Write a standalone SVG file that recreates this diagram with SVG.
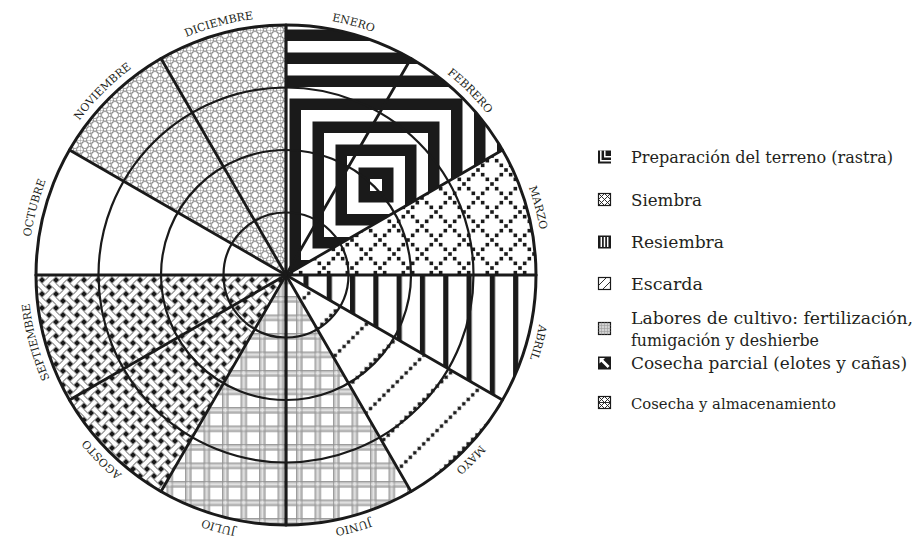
<svg xmlns="http://www.w3.org/2000/svg" width="919" height="553" viewBox="0 0 919 553">
<style>
.ring{fill:none;stroke:#1a1a1a;stroke-width:2.2}
.rad{stroke:#1a1a1a;stroke-width:2.8;stroke-linecap:round}
.mon{font-family:"DejaVu Serif","Liberation Serif",serif;font-size:11px;fill:#231f20;text-anchor:middle}
.leg{font-family:"DejaVu Serif","Liberation Serif",serif;font-size:16.5px;fill:#231f20}
.icf{fill:#fff;stroke:#1a1a1a;stroke-width:1.2}
.icb{fill:#1a1a1a}
.icl{fill:none;stroke:#1a1a1a;stroke-width:0.9}
.icw{fill:none;stroke:#fff;stroke-width:1.5}
.sq{fill:none;stroke:#1a1a1a;stroke-width:11.5}
</style>
<defs>
  <pattern id="pSiem" patternUnits="userSpaceOnUse" width="28" height="28" x="0" y="0">
    <rect width="28" height="28" fill="#fff"/>
    <g fill="#1a1a1a">
      <rect x="0.2" y="0.2" width="3.6" height="3.6"/>
      <rect x="4.87" y="4.87" width="3.6" height="3.6"/>
      <rect x="9.53" y="9.53" width="3.6" height="3.6"/>
      <rect x="14.2" y="14.2" width="3.6" height="3.6"/>
      <rect x="18.87" y="18.87" width="3.6" height="3.6"/>
      <rect x="23.53" y="23.53" width="3.6" height="3.6"/>
      <rect x="4.87" y="23.53" width="3.6" height="3.6"/>
      <rect x="9.53" y="18.87" width="3.6" height="3.6"/>
      <rect x="18.87" y="9.53" width="3.6" height="3.6"/>
      <rect x="23.53" y="4.87" width="3.6" height="3.6"/>
    </g>
  </pattern>
  <pattern id="pRes" patternUnits="userSpaceOnUse" width="23.3" height="30" x="0.5" y="0">
    <rect width="23.3" height="30" fill="#fff"/>
    <rect width="5.2" height="30" fill="#1a1a1a"/>
  </pattern>
  <pattern id="pMayo" patternUnits="userSpaceOnUse" width="6.3" height="31.3" patternTransform="translate(286 275) rotate(-45)">
    <rect width="6.3" height="31.3" fill="#fff"/>
    <polygon points="3.15,26.55 5.6,29 3.15,31.25 0.7,29" fill="#1a1a1a"/>
  </pattern>
  <pattern id="pLab" patternUnits="userSpaceOnUse" width="18.5" height="18.5">
    <rect width="18.5" height="18.5" fill="#c4c4c4"/>
    <rect x="6.5" y="6.5" width="12" height="12" fill="#fff"/>
    <path d="M3.25 0V18.5M0 3.25H18.5" stroke="#e6e6e6" stroke-width="1.4"/>
    <path d="M0.6 0V18.5M5.9 0V18.5M0 0.6H18.5M0 5.9H18.5" stroke="#8f8f8f" stroke-width="0.8"/>
  </pattern>
  <pattern id="pCP" patternUnits="userSpaceOnUse" width="19.799" height="19.799" patternTransform="rotate(45)">
    <rect width="19.799" height="19.799" fill="#1a1a1a"/>
    <g fill="#fff">
      <rect x="0" y="2.36" width="19.799" height="5.18"/>
      <rect x="0" y="12.26" width="19.799" height="5.18"/>
      <rect x="2.36" y="0" width="5.18" height="19.799"/>
      <rect x="12.26" y="0" width="5.18" height="19.799"/>
    </g>
    <path d="M2.36 2.36H7.54M2.36 7.54H7.54M12.26 2.36V7.54M17.44 2.36V7.54M2.36 12.26V17.44M7.54 12.26V17.44M12.26 12.26H17.44M12.26 17.44H17.44" stroke="#333" stroke-width="0.7"/>
  </pattern>
  <pattern id="pCA" patternUnits="userSpaceOnUse" width="10" height="10">
    <rect width="10" height="10" fill="#fff"/>
    <g fill="none" stroke="#6f6f6f" stroke-width="0.7">
      <path d="M0 0V10M0 0H10"/>
      <circle cx="5" cy="5" r="3.55"/>
      <circle cx="0" cy="0" r="3.55"/>
      <circle cx="10" cy="0" r="3.55"/>
      <circle cx="0" cy="10" r="3.55"/>
      <circle cx="10" cy="10" r="3.55"/>
    </g>
  </pattern>
  <clipPath id="cPrep"><path d="M286 275 L286 25 A250 250 0 0 1 502.506 150 Z"/></clipPath>
  <path id="lab" d="M286 17 A258 258 0 0 1 286 533 A258 258 0 0 1 286 17"/>
</defs>
<rect width="919" height="553" fill="#fff"/>

<g id="wheel">
  <g id="sectors">
    <path id="s-prep" d="M286 275 L286 25 A250 250 0 0 1 502.506 150 Z" fill="#fff"/>
    <g clip-path="url(#cPrep)">
      <rect class="sq" x="364.25" y="173.25" width="23.5" height="23.5"/>
      <rect class="sq" x="341.25" y="150.25" width="69.5" height="69.5"/>
      <rect class="sq" x="318.25" y="127.25" width="115.5" height="115.5"/>
      <rect class="sq" x="295.25" y="104.25" width="161.5" height="161.5"/>
      <rect class="sq" x="272.25" y="81.25" width="207.5" height="207.5"/>
      <rect class="sq" x="249.25" y="58.25" width="253.5" height="253.5"/>
      <rect class="sq" x="226.25" y="35.25" width="299.5" height="299.5"/>
      <rect class="sq" x="203.25" y="12.25" width="345.5" height="345.5"/>
    </g>
    <path id="s-siembra" d="M286 275 L502.506 150 A250 250 0 0 1 536 275 Z" fill="url(#pSiem)"/>
    <path id="s-resiembra" d="M286 275 L536 275 A250 250 0 0 1 502.506 400 Z" fill="url(#pRes)"/>
    <path id="s-mayo" d="M286 275 L502.506 400 A250 250 0 0 1 411 491.506 Z" fill="url(#pMayo)"/>
    <path id="s-labores" d="M286 275 L411 491.506 A250 250 0 0 1 161 491.506 Z" fill="url(#pLab)"/>
    <path id="s-cosecha-parcial" d="M286 275 L161 491.506 A250 250 0 0 1 36 275 Z" fill="url(#pCP)"/>
    <path id="s-octubre" d="M286 275 L36 275 A250 250 0 0 1 69.494 150 Z" fill="#fff"/>
    <path id="s-cosecha" d="M286 275 L69.494 150 A250 250 0 0 1 286 25 Z" fill="url(#pCA)"/>
  </g>
  <g id="rings">
    <circle class="ring" cx="286" cy="275" r="62.5"/>
    <circle class="ring" cx="286" cy="275" r="125"/>
    <circle class="ring" cx="286" cy="275" r="187.5"/>
  </g>
  <g id="radials" class="rad">
    <line x1="286" y1="275" x2="286" y2="25" stroke-width="3.2"/>
    <line x1="286" y1="275" x2="411" y2="58.494"/>
    <line x1="286" y1="275" x2="502.506" y2="150"/>
    <line x1="286" y1="275" x2="536" y2="275" stroke-width="3.2"/>
    <line x1="286" y1="275" x2="502.506" y2="400"/>
    <line x1="286" y1="275" x2="411" y2="491.506"/>
    <line x1="286" y1="275" x2="286" y2="525" stroke-width="3.2"/>
    <line x1="286" y1="275" x2="161" y2="491.506"/>
    <line x1="286" y1="275" x2="69.494" y2="400"/>
    <line x1="286" y1="275" x2="36" y2="275" stroke-width="3.2"/>
    <line x1="286" y1="275" x2="69.494" y2="150"/>
    <line x1="286" y1="275" x2="161" y2="58.494"/>
  </g>
  <circle cx="286" cy="275" r="250" fill="none" stroke="#1a1a1a" stroke-width="3"/>
</g>

<g id="months" class="mon">
  <text><textPath href="#lab" startOffset="4.1667%">ENERO</textPath></text>
  <text><textPath href="#lab" startOffset="12.5%">FEBRERO</textPath></text>
  <text><textPath href="#lab" startOffset="20.833%">MARZO</textPath></text>
  <text><textPath href="#lab" startOffset="29.167%">ABRIL</textPath></text>
  <text><textPath href="#lab" startOffset="37.5%">MAYO</textPath></text>
  <text><textPath href="#lab" startOffset="45.833%">JUNIO</textPath></text>
  <text><textPath href="#lab" startOffset="54.167%">JULIO</textPath></text>
  <text><textPath href="#lab" startOffset="62.5%">AGOSTO</textPath></text>
  <text><textPath href="#lab" startOffset="70.833%">SEPTIEMBRE</textPath></text>
  <text><textPath href="#lab" startOffset="79.167%">OCTUBRE</textPath></text>
  <text><textPath href="#lab" startOffset="87.5%">NOVIEMBRE</textPath></text>
  <text><textPath href="#lab" startOffset="95.833%">DICIEMBRE</textPath></text>
</g>

<g id="legend">
  <g id="leg-prep">
    <rect class="icb" x="598" y="150.5" width="13" height="13"/>
    <path class="icw" d="M600.8 150.5V160.7H611M604.8 150.5V156.7H611"/>
    <text class="leg" x="631" y="163" textLength="262" lengthAdjust="spacingAndGlyphs">Preparación del terreno (rastra)</text>
  </g>
  <g id="leg-siembra">
    <rect class="icf" x="598.5" y="193.5" width="12" height="12"/>
    <path class="icl" d="M598.5 193.5L610.5 205.5M610.5 193.5L598.5 205.5M604.5 193.5L610.5 199.5L604.5 205.5L598.5 199.5Z"/>
    <text class="leg" x="631" y="206" textLength="71" lengthAdjust="spacingAndGlyphs">Siembra</text>
  </g>
  <g id="leg-resiembra">
    <rect class="icb" x="598" y="235.5" width="13" height="13"/>
    <path class="icw" d="M601.3 237V247M604.5 237V247M607.7 237V247" stroke-width="1.2"/>
    <text class="leg" x="631" y="248" textLength="93" lengthAdjust="spacingAndGlyphs">Resiembra</text>
  </g>
  <g id="leg-escarda">
    <rect class="icf" x="598.5" y="277.5" width="12" height="12"/>
    <path class="icl" d="M598.5 285.5L606.5 277.5M602.5 289.5L610.5 281.5" stroke-width="1.1"/>
    <text class="leg" x="631" y="290" textLength="72" lengthAdjust="spacingAndGlyphs">Escarda</text>
  </g>
  <g id="leg-labores">
    <rect x="598.5" y="322.5" width="12" height="12" fill="#d4d4d4" stroke="#1a1a1a" stroke-width="1.2"/>
    <path d="M601.5 322.5V334.5M604.5 322.5V334.5M607.5 322.5V334.5M598.5 325.5H610.5M598.5 328.5H610.5M598.5 331.5H610.5" stroke="#9a9a9a" stroke-width="0.6"/>
    <text class="leg" x="631" y="324" textLength="282" lengthAdjust="spacingAndGlyphs">Labores de cultivo: fertilización,</text>
    <text class="leg" x="631" y="346" textLength="188" lengthAdjust="spacingAndGlyphs">fumigación y deshierbe</text>
  </g>
  <g id="leg-cosecha-parcial">
    <rect class="icb" x="598" y="356.5" width="13" height="13"/>
    <polygon points="599.5,358 605,358 603.3,359.8 609.6,366.1 607.6,368.1 601.3,361.8 599.5,363.5" fill="#fff"/>
    <text class="leg" x="631" y="369" textLength="276" lengthAdjust="spacingAndGlyphs">Cosecha parcial (elotes y cañas)</text>
  </g>
  <g id="leg-cosecha">
    <rect class="icf" x="598.5" y="396.5" width="12" height="12"/>
    <path class="icl" d="M598.5 402.5H610.5M604.5 396.5L610.5 402.5L604.5 408.5L598.5 402.5ZM598.5 396.5L604.5 402.5L610.5 396.5M598.5 408.5L604.5 402.5L610.5 408.5" stroke="#555" stroke-width="0.7"/>
    <text class="leg" x="631" y="409" style="font-size:15.5px" textLength="205" lengthAdjust="spacingAndGlyphs">Cosecha y almacenamiento</text>
  </g>
</g>
</svg>
